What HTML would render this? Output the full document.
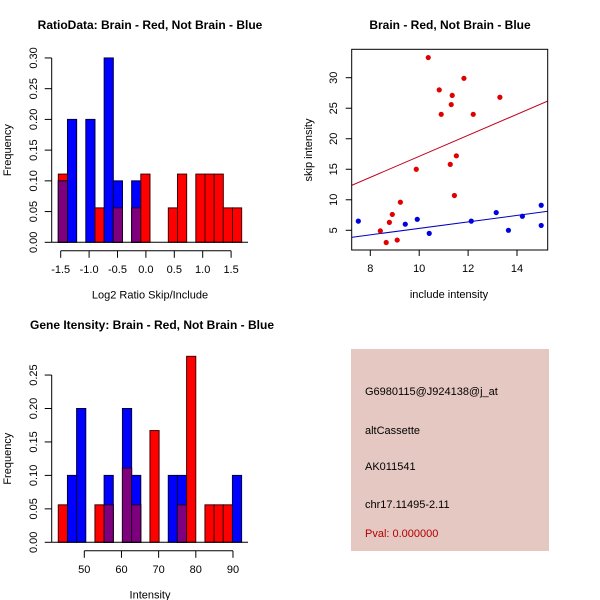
<!DOCTYPE html>
<html><head><meta charset="utf-8"><style>
body{margin:0;background:#fff}
svg{display:block;font-family:"Liberation Sans",sans-serif}
</style></head><body>
<svg id="c" width="600" height="600" viewBox="0 0 600 600">
<rect width="600" height="600" fill="#fff"/>
<g id="info">
<rect x="351" y="349" width="198" height="202" fill="#e5c8c2"/>
<text x="365" y="395" font-size="11">G6980115@J924138@j_at</text>
<text x="365" y="434" font-size="11">altCassette</text>
<text x="365" y="470" font-size="11">AK011541</text>
<text x="365" y="508" font-size="11">chr17.11495-2.11</text>
<text x="365" y="537" font-size="11" fill="#b00000">Pval: 0.000000</text>
</g>
</svg>
<script>
const ratioBinStart=-1.542, ratioBinW=0.1614;
const ratioRed=[0.111,0,0,0,0.056,0,0.056,0,0.056,0.111,0,0,0.056,0.111,0,0.111,0.111,0.111,0.056,0.056];
const ratioBlue=[0.1,0.2,0,0.2,0,0.3,0.1,0,0.1,0,0,0,0,0,0,0,0,0,0,0];
const ratioXTicks=[-1.5,-1.0,-0.5,0.0,0.5,1.0,1.5];
const ratioYTicks=[0,0.05,0.10,0.15,0.20,0.25,0.30];
const intBinStart=43.0, intBinW=2.466;
const intRed=[0.056,0,0,0,0.056,0.056,0,0.111,0.056,0,0.167,0,0,0.056,0.278,0,0.056,0.056,0.056,0];
const intBlue=[0,0.1,0.2,0,0,0.1,0,0.2,0.1,0,0,0,0.1,0.1,0,0,0,0,0,0.1];
const intXTicks=[50,60,70,80,90];
const intYTicks=[0,0.05,0.10,0.15,0.20,0.25];
const redX=[10.37,10.82,11.35,11.83,13.3,11.31,10.9,12.21,11.52,11.27,9.88,11.44,9.23,8.9,8.78,8.41,8.65,9.1];
const redY=[33.3,28.0,27.1,29.9,26.8,25.6,24.0,24.0,17.2,15.8,15.0,10.7,9.6,7.6,6.3,4.9,3.0,3.4];
const blueX=[7.51,9.43,9.92,10.41,12.13,13.15,13.65,14.22,14.99,14.99];
const blueY=[6.5,6.0,6.8,4.5,6.5,7.9,5.0,7.3,9.1,5.8];
const redFit=[-0.10,1.722], blueFit=[0.006,0.531];
const scXTicks=[8,10,12,14], scYTicks=[5,10,15,20,25,30];

const svg=document.getElementById('c');
const NS='http://www.w3.org/2000/svg';
function el(t,a,p){const e=document.createElementNS(NS,t);for(const k in a)e.setAttribute(k,a[k]);(p||svg).appendChild(e);return e;}
function txt(s,a,p){const e=el('text',a,p);e.textContent=s;return e;}

function hist(o){
  const g=el('g',{});
  
  
  const X=v=>o.x0+(v-o.xv0)*o.kx, Y=v=>o.y0-v*o.ky;
  txt(o.title,{x:o.titleX,y:o.titleY,'font-size':12,'font-weight':'bold','text-anchor':'middle'},g);
  for(let i=0;i<o.red.length;i++){
    const l=X(o.bs+i*o.bw), r=X(o.bs+(i+1)*o.bw), w=r-l;
    const rv=o.red[i], bv=o.blue[i], m=Math.min(rv,bv);
    if(rv>0){const b=el('rect',{x:l,y:Y(rv),width:w,height:Y(0)-Y(rv),fill:'#ff0000',stroke:'#400000','stroke-width':1},g);}
    if(bv>0){const b=el('rect',{x:l,y:Y(bv),width:w,height:Y(0)-Y(bv),fill:'#0000ff',stroke:'#000040','stroke-width':1},g);}
    if(m>0){const b=el('rect',{x:l,y:Y(m),width:w,height:Y(0)-Y(m),fill:'#7f007f',stroke:'#200020','stroke-width':1},g);}
  }
  el('line',{x1:51.7,x2:248,y1:Y(0),y2:Y(0),stroke:'#000'},g);
  const yt=o.yt;
  el('line',{x1:51.7,x2:51.7,y1:Y(yt[0]),y2:Y(yt[yt.length-1]),stroke:'#000'},g);
  yt.forEach(v=>{el('line',{x1:44.7,x2:51.7,y1:Y(v),y2:Y(v),stroke:'#000'},g);
    txt(v.toFixed(2),{x:0,y:0,'font-size':11,'text-anchor':'middle',transform:`translate(37,${Y(v)}) rotate(-90)`},g);});
  const xt=o.xt, ay=Y(0)+8.5;
  el('line',{x1:X(xt[0]),x2:X(xt[xt.length-1]),y1:ay,y2:ay,stroke:'#000'},g);
  xt.forEach(v=>{el('line',{x1:X(v),x2:X(v),y1:ay,y2:ay+7,stroke:'#000'},g);
    txt(o.fmt(v),{x:X(v),y:ay+22,'font-size':11,'text-anchor':'middle'},g);});
  txt(o.xlab,{x:150,y:Y(0)+56,'font-size':11,'text-anchor':'middle'},g);
  txt('Frequency',{x:0,y:0,'font-size':11,'text-anchor':'middle',transform:`translate(11,${(Y(0)+Y(yt[yt.length-1]))/2}) rotate(-90)`},g);
}
hist({name:'ratio-histogram',title:'RatioData: Brain - Red, Not Brain - Blue',titleX:150,titleY:29,x0:60.7,xv0:-1.5,kx:56.8,y0:242.3,ky:614.5,
  bs:ratioBinStart,bw:ratioBinW,red:ratioRed,blue:ratioBlue,xt:ratioXTicks,yt:ratioYTicks,fmt:v=>v.toFixed(1),xlab:'Log2 Ratio Skip/Include'});
hist({name:'intensity-histogram',title:'Gene Itensity: Brain - Red, Not Brain - Blue',titleX:152,titleY:329,x0:84.3,xv0:50,kx:3.717,y0:542.3,ky:669,
  bs:intBinStart,bw:intBinW,red:intRed,blue:intBlue,xt:intXTicks,yt:intYTicks,fmt:v=>String(v),xlab:'Intensity'});

const sg=el('g',{});


const SX=v=>370.3+(v-8)*24.45, SY=v=>230.3-(v-5)*6.104;
const L=351.7,R=547.7,T=49.3,B=250;
txt('Brain - Red, Not Brain - Blue',{x:450,y:29,'font-size':12,'font-weight':'bold','text-anchor':'middle'},sg);
const cp=el('clipPath',{id:'sc'},sg);el('rect',{x:L,y:T,width:R-L,height:B-T},cp);
[[redFit,'#c00020','fit-line-red'],[blueFit,'#0000c0','fit-line-blue']].forEach(([f,c,n])=>{
  const x1=7.0,x2=15.5;
  const l=el('line',{x1:SX(x1),y1:SY(f[0]+f[1]*x1),x2:SX(x2),y2:SY(f[0]+f[1]*x2),stroke:c,'stroke-width':1,'clip-path':'url(#sc)'},sg);
  });
redX.forEach((x,i)=>{const p=el('circle',{cx:SX(x),cy:SY(redY[i]),r:2.6,fill:'#e00000'},sg);});
blueX.forEach((x,i)=>{const p=el('circle',{cx:SX(x),cy:SY(blueY[i]),r:2.6,fill:'#0000e0'},sg);});
el('rect',{x:L,y:T,width:R-L,height:B-T,fill:'none',stroke:'#000'},sg);
scXTicks.forEach(v=>{el('line',{x1:SX(v),x2:SX(v),y1:B,y2:B+6,stroke:'#000'},sg);
  txt(String(v),{x:SX(v),y:B+22,'font-size':11,'text-anchor':'middle'},sg);});
scYTicks.forEach(v=>{el('line',{x1:L-6,x2:L,y1:SY(v),y2:SY(v),stroke:'#000'},sg);
  txt(String(v),{x:0,y:0,'font-size':11,'text-anchor':'middle',transform:`translate(337,${SY(v)}) rotate(-90)`},sg);});
txt('include intensity',{x:449,y:298,'font-size':11,'text-anchor':'middle'},sg);
txt('skip intensity',{x:0,y:0,'font-size':11,'text-anchor':'middle',transform:'translate(312,150) rotate(-90)'},sg);
</script>
</body></html>
